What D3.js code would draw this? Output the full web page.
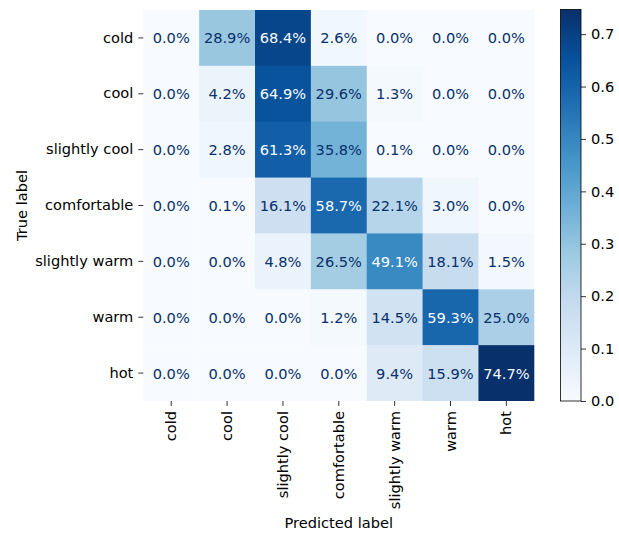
<!DOCTYPE html>
<html>
<head>
<meta charset="utf-8">
<script src="https://cdn.jsdelivr.net/npm/d3@7"></script>
<style>
  html, body { margin: 0; padding: 0; background: #fff; }
  svg { display: block; font-family: "DejaVu Sans", sans-serif; }
</style>
</head>
<body>
<svg id="chart" width="619" height="536"></svg>
<script>
// Class labels (rows = true, columns = predicted)
const labels = ["cold", "cool", "slightly cool", "comfortable", "slightly warm", "warm", "hot"];

// Row-normalised confusion matrix, one array per true class
const rowCold         = [0.000, 0.289, 0.684, 0.026, 0.000, 0.000, 0.000];
const rowCool         = [0.000, 0.042, 0.649, 0.296, 0.013, 0.000, 0.000];
const rowSlightlyCool = [0.000, 0.028, 0.613, 0.358, 0.001, 0.000, 0.000];
const rowComfortable  = [0.000, 0.001, 0.161, 0.587, 0.221, 0.030, 0.000];
const rowSlightlyWarm = [0.000, 0.000, 0.048, 0.265, 0.491, 0.181, 0.015];
const rowWarm         = [0.000, 0.000, 0.000, 0.012, 0.145, 0.593, 0.250];
const rowHot          = [0.000, 0.000, 0.000, 0.000, 0.094, 0.159, 0.747];
const matrix = [rowCold, rowCool, rowSlightlyCool, rowComfortable, rowSlightlyWarm, rowWarm, rowHot];

// Colour bar ticks
const colorbarTicks = [0.0, 0.1, 0.2, 0.3, 0.4, 0.5, 0.6, 0.7];

// "Blues" palette, linearly interpolated between its anchor colours
const bluesAnchors = ["#f7fbff", "#deebf7", "#c6dbef", "#9ecae1", "#6baed6",
                      "#4292c6", "#2171b5", "#08519c", "#08306b"];

const svg = d3.select("#chart");
const fontSize = 14.6;
const tickLen = 5, tickPad = 5;

const cells = matrix.flatMap((row, i) => row.map((v, j) => ({ i, j, v })));
const vmin = 0;
const vmax = d3.max(cells, d => d.v);

const unit = d3.scaleLinear()
  .domain(d3.range(bluesAnchors.length).map(k => k / (bluesAnchors.length - 1)))
  .range(bluesAnchors)
  .interpolate(d3.interpolateRgb)
  .clamp(true);
const color = v => unit((v - vmin) / (vmax - vmin));

// Heatmap geometry
const hm = { left: 143.3, top: 10, size: 391 };
const x = d3.scaleBand().domain(d3.range(labels.length)).range([hm.left, hm.left + hm.size]);
const y = d3.scaleBand().domain(d3.range(labels.length)).range([hm.top, hm.top + hm.size]);

const g = svg.append("g");
g.selectAll("rect.cell")
  .data(cells)
  .join("rect")
  .attr("class", "cell")
  .attr("x", d => x(d.j))
  .attr("y", d => y(d.i))
  .attr("width", d => x.bandwidth() + (d.j < labels.length - 1 ? 0.5 : 0))
  .attr("height", d => y.bandwidth() + (d.i < labels.length - 1 ? 0.5 : 0))
  .attr("fill", d => color(d.v));

// Cell annotations: light text on dark cells, dark text on light cells
const thresh = (vmax + vmin) / 2;
g.selectAll("text.val")
  .data(cells)
  .join("text")
  .attr("class", "val")
  .attr("x", d => x(d.j) + x.bandwidth() / 2)
  .attr("y", d => y(d.i) + y.bandwidth() / 2)
  .attr("text-anchor", "middle")
  .attr("dominant-baseline", "central")
  .attr("font-size", fontSize)
  .attr("fill", d => d.v < thresh ? unit(1) : unit(0))
  .text(d => (d.v * 100).toFixed(1) + "%");

// Axes
const xAxis = d3.axisBottom(x).tickSize(tickLen).tickPadding(tickPad).tickFormat(k => labels[k]);
const yAxis = d3.axisLeft(y).tickSize(tickLen).tickPadding(tickPad).tickFormat(k => labels[k]);

const gx = svg.append("g").attr("transform", `translate(0,${hm.top + hm.size})`).call(xAxis);
gx.select(".domain").remove();
gx.selectAll(".tick line").attr("stroke", "#000").attr("stroke-width", 0.8);
gx.selectAll(".tick text")
  .attr("font-size", fontSize)
  .attr("font-family", "DejaVu Sans, sans-serif")
  .attr("fill", "#000")
  .attr("transform", "rotate(-90)")
  .attr("text-anchor", "end")
  .attr("x", -(tickLen + tickPad))
  .attr("y", 0)
  .attr("dy", "0.35em");

const gy = svg.append("g").attr("transform", `translate(${hm.left},0)`).call(yAxis);
gy.select(".domain").remove();
gy.selectAll(".tick line").attr("stroke", "#000").attr("stroke-width", 0.8);
gy.selectAll(".tick text")
  .attr("font-size", fontSize)
  .attr("font-family", "DejaVu Sans, sans-serif")
  .attr("fill", "#000");

// Axis titles
svg.append("text")
  .attr("x", hm.left + hm.size / 2)
  .attr("y", 527.5)
  .attr("text-anchor", "middle")
  .attr("font-size", fontSize)
  .text("Predicted label");

svg.append("text")
  .attr("transform", `translate(26.5,${hm.top + hm.size / 2}) rotate(-90)`)
  .attr("text-anchor", "middle")
  .attr("font-size", fontSize)
  .text("True label");

// Colour bar
const cb = { left: 560.5, width: 20.5, top: 9.5, bottom: hm.top + hm.size };
const cbScale = d3.scaleLinear().domain([vmin, vmax]).range([cb.bottom, cb.top]);

const defs = svg.append("defs");
const grad = defs.append("linearGradient")
  .attr("id", "cbGrad")
  .attr("x1", 0).attr("y1", 1).attr("x2", 0).attr("y2", 0);
grad.selectAll("stop")
  .data(d3.range(0, 1.0001, 1 / 64))
  .join("stop")
  .attr("offset", t => t)
  .attr("stop-color", t => unit(t));

svg.append("rect")
  .attr("x", cb.left)
  .attr("y", cb.top)
  .attr("width", cb.width)
  .attr("height", cb.bottom - cb.top)
  .attr("fill", "url(#cbGrad)");

const cbAxis = d3.axisRight(cbScale)
  .tickValues(colorbarTicks)
  .tickSize(tickLen)
  .tickPadding(tickPad)
  .tickFormat(d3.format(".1f"));
const gcb = svg.append("g").attr("transform", `translate(${cb.left + cb.width},0)`).call(cbAxis);
gcb.select(".domain").remove();
gcb.selectAll(".tick line").attr("stroke", "#000").attr("stroke-width", 0.8);
gcb.selectAll(".tick text")
  .attr("font-size", fontSize)
  .attr("font-family", "DejaVu Sans, sans-serif")
  .attr("fill", "#000");

svg.append("rect")
  .attr("x", cb.left)
  .attr("y", cb.top)
  .attr("width", cb.width)
  .attr("height", cb.bottom - cb.top)
  .attr("fill", "none")
  .attr("stroke", "#000")
  .attr("stroke-width", 0.8);
</script>
</body>
</html>
